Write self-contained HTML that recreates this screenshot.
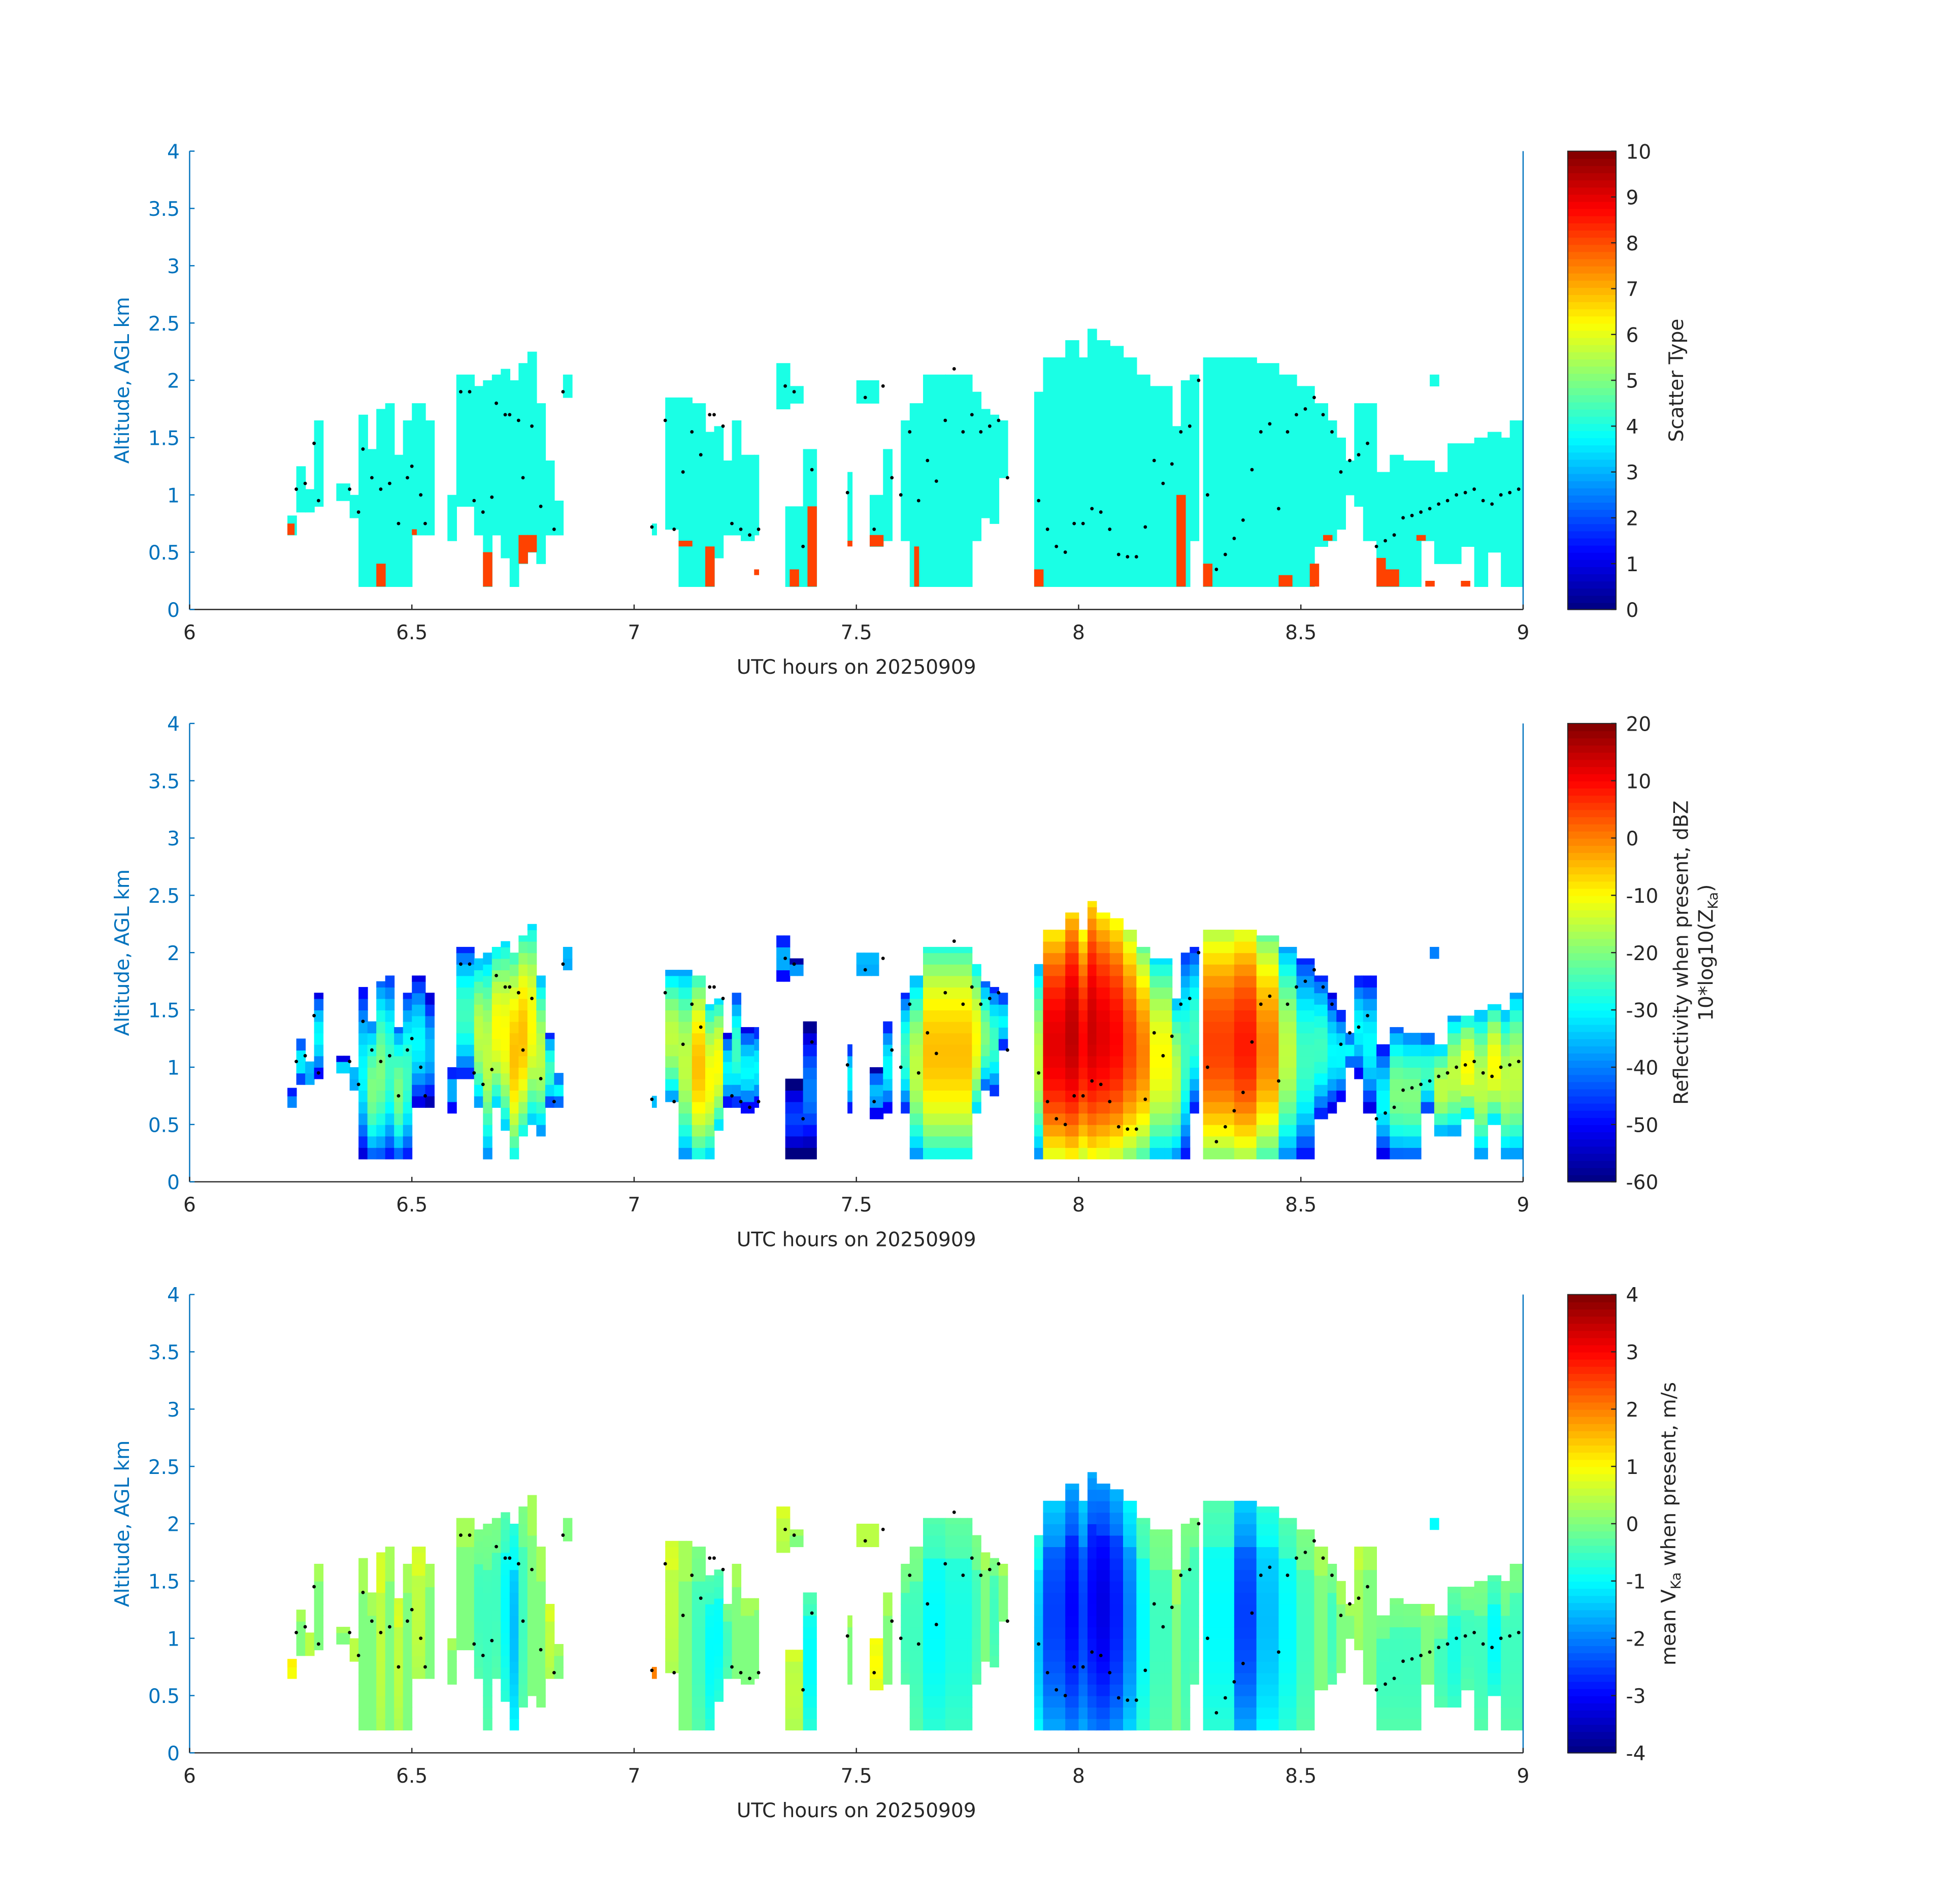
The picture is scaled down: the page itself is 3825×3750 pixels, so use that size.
<!DOCTYPE html>
<html><head><meta charset="utf-8"><style>
html,body{margin:0;padding:0;background:#fff}
svg{display:block}
text{font-family:"DejaVu Sans","Liberation Sans",sans-serif}
</style></head><body>
<svg id="fig" width="3825" height="3750" viewBox="0 0 1567 1537" preserveAspectRatio="none" xmlns="http://www.w3.org/2000/svg">
<rect width="1600" height="1600" fill="#fff"/>
</svg>
<script>
// ---- data ----
const segT0 = [6.22,6.24,6.26,6.28,6.33,6.36,6.38,6.40,6.42,6.44,6.46,6.48,6.50,6.53,6.58,6.60,6.64,6.66,6.68,6.70,6.72,6.74,6.76,6.78,6.80,6.82,6.84,7.04,7.07,7.10,7.13,7.16,7.18,7.20,7.22,7.24,7.27,7.32,7.35,7.34,7.38,7.48,7.50,7.53,7.56,7.60,7.62,7.65,7.70,7.76,7.78,7.80,7.82,7.90,7.92,7.97,8.00,8.02,8.04,8.07,8.10,8.13,8.16,8.21,8.23,8.25,8.28,8.35,8.40,8.45,8.49,8.53,8.56,8.58,8.60,8.62,8.64,8.67,8.70,8.73,8.77,8.80,8.83,8.86,8.89,8.92,8.95,8.97,8.79];
const segT1 = [6.24,6.26,6.28,6.30,6.36,6.38,6.40,6.42,6.44,6.46,6.48,6.50,6.53,6.55,6.60,6.64,6.66,6.68,6.70,6.72,6.74,6.76,6.78,6.80,6.82,6.84,6.86,7.05,7.10,7.13,7.16,7.18,7.20,7.22,7.24,7.27,7.28,7.35,7.38,7.38,7.41,7.49,7.55,7.56,7.58,7.62,7.65,7.70,7.76,7.78,7.80,7.82,7.84,7.92,7.97,8.00,8.02,8.04,8.07,8.10,8.13,8.16,8.21,8.23,8.25,8.27,8.35,8.40,8.45,8.49,8.53,8.56,8.58,8.60,8.62,8.64,8.67,8.70,8.73,8.77,8.80,8.83,8.86,8.89,8.92,8.95,8.97,9.00,8.81];
const segBase = [0.65,0.85,0.85,0.9,0.95,0.8,0.2,0.2,0.2,0.2,0.2,0.2,0.65,0.65,0.6,0.9,0.65,0.2,0.65,0.45,0.2,0.4,0.5,0.4,0.65,0.65,1.85,0.65,0.7,0.2,0.2,0.2,0.45,0.65,0.65,0.6,0.65,1.75,1.8,0.2,0.2,0.6,1.8,0.55,0.6,0.6,0.2,0.2,0.2,0.6,0.8,0.75,1.15,0.2,0.2,0.2,0.2,0.2,0.2,0.2,0.2,0.2,0.2,0.2,0.2,0.6,0.2,0.2,0.2,0.2,0.2,0.55,0.6,0.7,1.0,0.9,0.6,0.2,0.2,0.2,0.6,0.4,0.4,0.55,0.2,0.5,0.2,0.2,1.95];
const segTop = [0.82,1.25,1.05,1.65,1.1,1.0,1.7,1.4,1.75,1.8,1.35,1.65,1.8,1.65,1.0,2.05,1.95,2.0,2.05,2.1,2.0,2.15,2.25,1.8,1.3,0.95,2.05,0.75,1.85,1.85,1.8,1.55,1.6,1.3,1.65,1.35,1.35,2.15,1.95,0.9,1.4,1.2,2.0,1.0,1.4,1.65,1.8,2.05,2.05,1.9,1.75,1.7,1.65,1.9,2.2,2.35,2.2,2.45,2.35,2.3,2.2,2.05,1.95,1.6,2.0,2.05,2.2,2.2,2.15,2.05,1.95,1.8,1.65,1.5,1.3,1.8,1.8,1.2,1.35,1.3,1.3,1.2,1.45,1.45,1.5,1.55,1.5,1.65,2.05];
const segDbz = [-35,-30,-30,-30,-30,-30,-30,-20,-20,-25,-20,-25,-30,-35,-35,-25,-15,-15,-10,-10,-5,-5,-10,-15,-25,-30,-30,-35,-15,-15,-5,-10,-10,-30,-25,-30,-30,-35,-35,-45,-40,-30,-30,-35,-30,-25,-15,-5,-5,-10,-20,-25,-30,-15,12,15,10,14,12,10,5,0,-10,-15,-25,-25,5,8,0,-15,-25,-25,-30,-30,-30,-30,-30,-30,-20,-20,-25,-15,-15,-10,-15,-10,-15,-15,-40];
const segVel = [1,0,0.5,0,0,0.5,0,0,0.5,0,0.5,0,0.5,0,0,0,-0.5,-0.5,-0.5,-1,-1.5,-0.5,0,0,0.5,0,0,2,0.5,0,-0.5,-1,-1,-0.5,0,0,0,0.5,0,0.5,-1,0,0.5,1,0,-0.5,-0.5,-1,-0.8,-0.5,0,-0.5,0,-1.5,-2.5,-3,-2.5,-3,-3.2,-2.8,-2,-1,-0.5,0,-0.5,-0.5,-1,-2.5,-1.5,-1,-0.5,0,-0.5,0,0,0.3,0,-0.5,-0.5,-0.5,0,-0.5,-0.8,-0.5,-0.5,-1,-0.5,-0.5,-1];
const orT0 = [6.22,6.42,6.50,6.66,6.74,6.76,7.10,7.16,7.27,7.35,7.39,7.48,7.53,7.63,7.90,8.22,8.28,8.45,8.52,8.55,8.67,8.69,8.76,8.78,8.86];
const orT1 = [6.235,6.44,6.51,6.68,6.76,6.78,7.13,7.18,7.28,7.37,7.41,7.49,7.56,7.64,7.92,8.24,8.30,8.48,8.54,8.57,8.69,8.72,8.78,8.80,8.88];
const orBase = [0.65,0.2,0.65,0.2,0.4,0.5,0.55,0.2,0.3,0.2,0.2,0.55,0.55,0.2,0.2,0.2,0.2,0.2,0.2,0.6,0.2,0.2,0.6,0.2,0.2];
const orTop = [0.75,0.4,0.7,0.5,0.65,0.65,0.6,0.55,0.35,0.35,0.9,0.6,0.65,0.55,0.35,1.0,0.4,0.3,0.4,0.65,0.45,0.35,0.65,0.25,0.25];
const dotT = [6.24,6.26,6.28,6.29,6.36,6.38,6.39,6.41,6.43,6.45,6.47,6.49,6.50,6.52,6.53,6.61,6.63,6.64,6.66,6.68,6.69,6.71,6.72,6.74,6.75,6.77,6.79,6.82,6.84,7.04,7.07,7.09,7.11,7.13,7.15,7.17,7.18,7.20,7.22,7.24,7.26,7.28,7.34,7.36,7.38,7.40,7.48,7.52,7.54,7.56,7.58,7.60,7.62,7.64,7.66,7.68,7.70,7.72,7.74,7.76,7.78,7.80,7.82,7.84,7.91,7.93,7.95,7.97,7.99,8.01,8.03,8.05,8.07,8.09,8.11,8.13,8.15,8.17,8.19,8.21,8.23,8.25,8.27,8.29,8.31,8.33,8.35,8.37,8.39,8.41,8.43,8.45,8.47,8.49,8.51,8.53,8.55,8.57,8.59,8.61,8.63,8.65,8.67,8.69,8.71,8.73,8.75,8.77,8.79,8.81,8.83,8.85,8.87,8.89,8.91,8.93,8.95,8.97,8.99];
const dotH = [1.05,1.1,1.45,0.95,1.05,0.85,1.4,1.15,1.05,1.1,0.75,1.15,1.25,1.0,0.75,1.9,1.9,0.95,0.85,0.98,1.8,1.7,1.7,1.65,1.15,1.6,0.9,0.7,1.9,0.72,1.65,0.7,1.2,1.55,1.35,1.7,1.7,1.6,0.75,0.7,0.65,0.7,1.95,1.9,0.55,1.22,1.02,1.85,0.7,1.95,1.15,1.0,1.55,0.95,1.3,1.12,1.65,2.1,1.55,1.7,1.55,1.6,1.65,1.15,0.95,0.7,0.55,0.5,0.75,0.75,0.88,0.85,0.7,0.48,0.46,0.46,0.72,1.3,1.1,1.27,1.55,1.6,2.0,1.0,0.35,0.48,0.62,0.78,1.22,1.55,1.62,0.88,1.55,1.7,1.75,1.85,1.7,1.55,1.2,1.3,1.35,1.45,0.55,0.6,0.65,0.8,0.82,0.85,0.88,0.92,0.95,1.0,1.02,1.05,0.95,0.92,1.0,1.02,1.05,1.1,1.15];
const xTicks = [6,6.5,7,7.5,8,8.5,9];
const yTicks = [0,0.5,1,1.5,2,2.5,3,3.5,4];
const cb1Ticks = [0,1,2,3,4,5,6,7,8,9,10];
const cb2Ticks = [-60,-50,-40,-30,-20,-10,0,10,20];
const cb3Ticks = [-4,-3,-2,-1,0,1,2,3,4];

// ---- layout ----
const NS="http://www.w3.org/2000/svg";
const svg=document.getElementById('fig');
const AX0=153, AX1=1229, CB0=1265, CB1=1304, PH=370;
const panelTop=[122,584,1045];
function xs(t){return AX0+(t-6)/3*(AX1-AX0);}
function ys(p,z){return panelTop[p]+PH-(z/4)*PH;}
function jet(f){f=Math.max(0,Math.min(1,f));
  const c=v=>Math.round(255*Math.max(0,Math.min(1,v)));
  const r=1.5-Math.abs(4*f-3), g=1.5-Math.abs(4*f-2), b=1.5-Math.abs(4*f-1);
  return `rgb(${c(r)},${c(g)},${c(b)})`;}
function el(tag,attrs,parent){const e=document.createElementNS(NS,tag);for(const k in attrs)e.setAttribute(k,attrs[k]);(parent||svg).appendChild(e);return e;}
function txt(s,x,y,attrs,parent){const e=el('text',Object.assign({x:x,y:y},attrs),parent);e.textContent=s;return e;}

const panels=[
 {lo:0,hi:10,ticks:cb1Ticks,name:'scatter-type'},
 {lo:-60,hi:20,ticks:cb2Ticks,name:'reflectivity'},
 {lo:-4,hi:4,ticks:cb3Ticks,name:'velocity'}];

for(let p=0;p<3;p++){
  const P=panels[p];
  const g=el('g',{});
  
  
  const marks=el('g',{},g);
  
  
  for(let i=0;i<segT0.length;i++){
    if(p===0){
      const r=el('rect',{x:xs(segT0[i]),y:ys(p,segTop[i]),width:xs(segT1[i])-xs(segT0[i])+0.5,height:ys(p,segBase[i])-ys(p,segTop[i])+0.3,fill:jet(4/10)},marks);
      
      
    } else {
      const mid=(segBase[i]+segTop[i])/2, half=Math.max(0.05,(segTop[i]-segBase[i])/2);
      for(let t=segT0[i]; t<segT1[i]-1e-6; t+=1/60){
        const t2=Math.min(segT1[i],t+1/60);
        for(let z=segBase[i]; z<segTop[i]-1e-6; z+=0.1){
          const z2=Math.min(segTop[i],z+0.1);
          const q=((z+0.05)-mid)/half;
          let v;
          if(p===1) v=segDbz[i]-22*q*q+(q<0?-4*q*q:0);
          else v=segVel[i]*(1-0.35*q*q)+(q>0.6?0.3:0);
          const r=el('rect',{x:xs(t),y:ys(p,z2),width:xs(t2)-xs(t)+0.4,height:ys(p,z)-ys(p,z2)+0.4,fill:jet((v-P.lo)/(P.hi-P.lo))},marks);
          
          
        }
      }
    }
  }
  if(p===0){
    for(let i=0;i<orT0.length;i++){
      const r=el('rect',{x:xs(orT0[i]),y:ys(p,orTop[i]),width:xs(orT1[i])-xs(orT0[i])+0.4,height:ys(p,orBase[i])-ys(p,orTop[i]),fill:jet(8.1/10)},marks);
      
      
    }
  }
  for(let i=0;i<dotT.length;i++){
    const d=el('circle',{cx:xs(dotT[i]),cy:ys(p,dotH[i]),r:1.4,fill:'#000'},g);
    
    
  }
  const top=panelTop[p], bot=top+PH;
  const ya=el('line',{x1:AX0,y1:top,x2:AX0,y2:bot,stroke:'#0072BD','stroke-width':1},g);
   
  const yr=el('line',{x1:AX1,y1:top,x2:AX1,y2:bot,stroke:'#0072BD','stroke-width':1},g);
   
  const xa=el('line',{x1:AX0,y1:bot,x2:AX1,y2:bot,stroke:'#262626','stroke-width':1},g);
   
  for(const t of xTicks){
    el('line',{x1:xs(t),y1:bot,x2:xs(t),y2:bot-4,stroke:'#262626'},g);
    const l=txt(String(t),xs(t),bot+24,{'font-size':16,'text-anchor':'middle',fill:'#262626'},g);
     
  }
  for(const z of yTicks){
    el('line',{x1:AX0,y1:ys(p,z),x2:AX0+4,y2:ys(p,z),stroke:'#0072BD'},g);
    const l=txt(String(z),AX0-8,ys(p,z)+6,{'font-size':16,'text-anchor':'end',fill:'#0072BD'},g);
     
  }
  const xt=txt('UTC hours on 20250909',(AX0+AX1)/2,bot+52,{'font-size':16,'text-anchor':'middle',fill:'#262626'},g);
   
  const yt=txt('Altitude, AGL km',104,top+PH/2,{'font-size':16,'text-anchor':'middle',fill:'#0072BD',transform:`rotate(-90 104 ${top+PH/2})`},g);
   
  const cb=el('g',{},g);
  
  
  const N=64;
  for(let k=0;k<N;k++){
    el('rect',{x:CB0,y:top+PH-(k+1)*PH/N,width:CB1-CB0,height:PH/N+0.5,fill:jet((k+0.5)/N)},cb);
  }
  el('rect',{x:CB0,y:top,width:CB1-CB0,height:PH,fill:'none',stroke:'#262626','stroke-width':0.8},cb);
  for(const v of P.ticks){
    const y=top+PH-(v-P.lo)/(P.hi-P.lo)*PH;
    el('line',{x1:CB1-4,y1:y,x2:CB1,y2:y,stroke:'#262626'},cb);
    const l=txt(String(v),CB1+8,y+6,{'font-size':16,fill:'#262626'},cb);
     
  }
}
let c1=txt('Scatter Type',1358,307,{'font-size':16,'text-anchor':'middle',fill:'#262626',transform:'rotate(-90 1358 307)'});
 
let c2=txt('Reflectivity when present, dBZ',1362,769,{'font-size':16,'text-anchor':'middle',fill:'#262626',transform:'rotate(-90 1362 769)'});
 
let c2b=el('text',{x:1382,y:769,'font-size':16,'text-anchor':'middle',fill:'#262626',transform:'rotate(-90 1382 769)'});
c2b.innerHTML='10*log10(Z<tspan font-size="11" dy="4">Ka</tspan><tspan dy="-4">)</tspan>';
 
let c3=el('text',{x:1352,y:1230,'font-size':16,'text-anchor':'middle',fill:'#262626',transform:'rotate(-90 1352 1230)'});
c3.innerHTML='mean V<tspan font-size="11" dy="4">Ka</tspan><tspan dy="-4"> when present, m/s</tspan>';
 
</script>
</body></html>
